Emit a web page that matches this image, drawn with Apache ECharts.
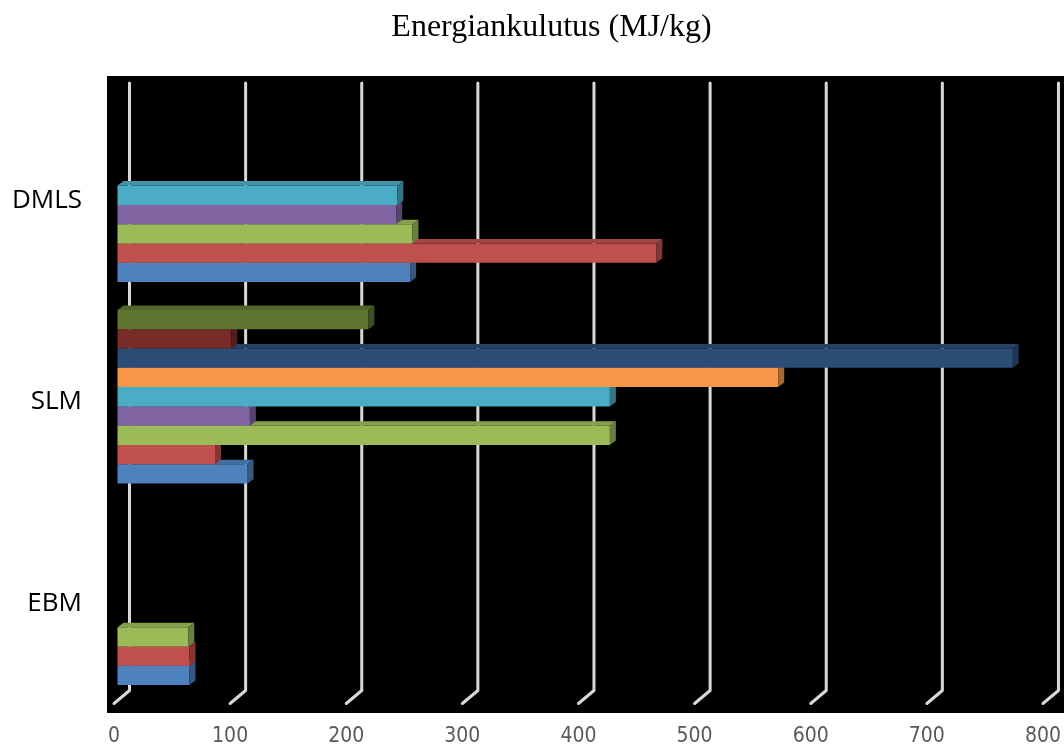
<!DOCTYPE html>
<html>
<head>
<meta charset="utf-8">
<script src="https://cdn.jsdelivr.net/npm/echarts@6/dist/echarts.min.js"></script>
<style>
  html, body { margin: 0; padding: 0; background: #ffffff; }
  #chart { width: 1064px; height: 747px; }
</style>
</head>
<body>
<div id="chart"></div>
<script>
// Categories, bottom to top
const categories = ['EBM', 'SLM', 'DMLS'];

// Energy consumption (MJ/kg) per series, aligned with categories (null = no bar)
const series1 = [62, 112, 252];
const series2 = [62, 84, 464];
const series3 = [61, 424, 254];
const series4 = [null, 114, 240];
const series5 = [null, 424, 241];
const series6 = [null, 569, null];
const series7 = [null, 771, null];
const series8 = [null, 98, null];
const series9 = [null, 216, null];
const allSeries = [series1, series2, series3, series4, series5, series6, series7, series8, series9];

const seriesColors = ['#4F81BD', '#C0504D', '#9BBB59', '#8064A2', '#4BACC6',
                      '#F79646', '#2C4D75', '#772C2A', '#5F7530'];

// Value axis ticks
const tickValues = [0, 100, 200, 300, 400, 500, 600, 700, 800];

function shade(hex, f) {
  const n = parseInt(hex.slice(1), 16);
  const r = Math.round(((n >> 16) & 255) * f);
  const g = Math.round(((n >> 8) & 255) * f);
  const b = Math.round((n & 255) * f);
  return 'rgb(' + r + ',' + g + ',' + b + ')';
}

const DEPTH_X = 6;
const DEPTH_Y = -4.5;
const SLOTS = allSeries.length;
const GROUP_RATIO = 0.862;

// 3D-looking bar: front face, top face and right side face
function barRenderer(slot, color) {
  return function (params, api) {
    const val = api.value(0);
    if (val == null || isNaN(val)) return;
    const cat = api.value(1);
    const p0 = api.coord([0, cat]);
    const p1 = api.coord([val, cat]);
    const band = api.size([0, 1])[1];
    const group = band * GROUP_RATIO;
    const h = group / SLOTS;
    const bottom = p0[1] + group / 2 - slot * h;
    const top = bottom - h;
    const x0 = p0[0], x1 = p1[0];
    return {
      type: 'group',
      children: [
        { type: 'rect', shape: { x: x0, y: top, width: x1 - x0, height: h },
          style: { fill: color } },
        { type: 'polygon', shape: { points: [[x0, top], [x1, top], [x1 + DEPTH_X, top + DEPTH_Y], [x0 + DEPTH_X, top + DEPTH_Y]] },
          style: { fill: shade(color, 0.86) } },
        { type: 'polygon', shape: { points: [[x1, top], [x1 + DEPTH_X, top + DEPTH_Y], [x1 + DEPTH_X, bottom + DEPTH_Y], [x1, bottom]] },
          style: { fill: shade(color, 0.68) } }
      ]
    };
  };
}

// Back-wall gridlines with a short slanted floor segment
function gridRenderer(params, api) {
  const v = api.value(0);
  const cs = params.coordSys;
  const x = api.coord([v, 0])[0];
  const yTop = cs.y - 11.5;
  const yWall = cs.y + cs.height - 8.5;
  const yFront = cs.y + cs.height + 4.5;
  return {
    type: 'polyline',
    shape: { points: [[x + 12, yTop], [x + 12, yWall], [x - 3.5, yFront]] },
    style: { stroke: '#D9D9D9', lineWidth: 3, fill: null, lineCap: 'round', lineJoin: 'round' }
  };
}

const chartSeries = [{
  type: 'custom',
  name: 'grid',
  renderItem: gridRenderer,
  data: tickValues.map(v => [v, 0]),
  clip: false,
  silent: true,
  z: 1
}];

allSeries.forEach((vals, i) => {
  chartSeries.push({
    type: 'custom',
    name: 'Sarja ' + (i + 1),
    renderItem: barRenderer(i, seriesColors[i]),
    data: vals.map((v, c) => [v, c]),
    clip: false,
    z: 2
  });
});

const chart = echarts.init(document.getElementById('chart'), null, { renderer: 'canvas' });
chart.setOption({
  backgroundColor: '#ffffff',
  animation: false,
  graphic: {
    elements: [
      { type: 'rect', left: 107, top: 76, shape: { width: 957, height: 637 },
        style: { fill: '#000000' }, z: -10, silent: true },
      { type: 'text', x: 551.5, y: 28,
        style: { text: 'Energiankulutus (MJ/kg)', font: '32px "Liberation Serif", "DejaVu Serif", serif',
                 fill: '#000000', textAlign: 'center', textVerticalAlign: 'middle' } }
    ]
  },
  grid: { left: 117.5, right: 16.9, top: 94.5, bottom: 43.5, containLabel: false },
  xAxis: {
    type: 'value', min: 0, max: 800, interval: 100,
    axisLine: { show: false }, axisTick: { show: false }, splitLine: { show: false },
    axisLabel: { color: '#595959', fontSize: 21,
                 fontFamily: '"DejaVu Sans Condensed", "Liberation Sans Narrow", "Roboto Condensed", sans-serif',
                 margin: 27, padding: [0, 7, 0, 0] }
  },
  yAxis: {
    type: 'category', data: categories,
    axisLine: { show: false }, axisTick: { show: false }, splitLine: { show: false },
    axisLabel: {
      margin: 35.5,
      formatter: '{cat|{value}}',
      rich: {
        cat: { color: '#000000', fontSize: 26, fontFamily: '"Open Sans", sans-serif',
               padding: [10, 0, 0, 0] }
      }
    }
  },
  series: chartSeries
});
</script>
</body>
</html>
